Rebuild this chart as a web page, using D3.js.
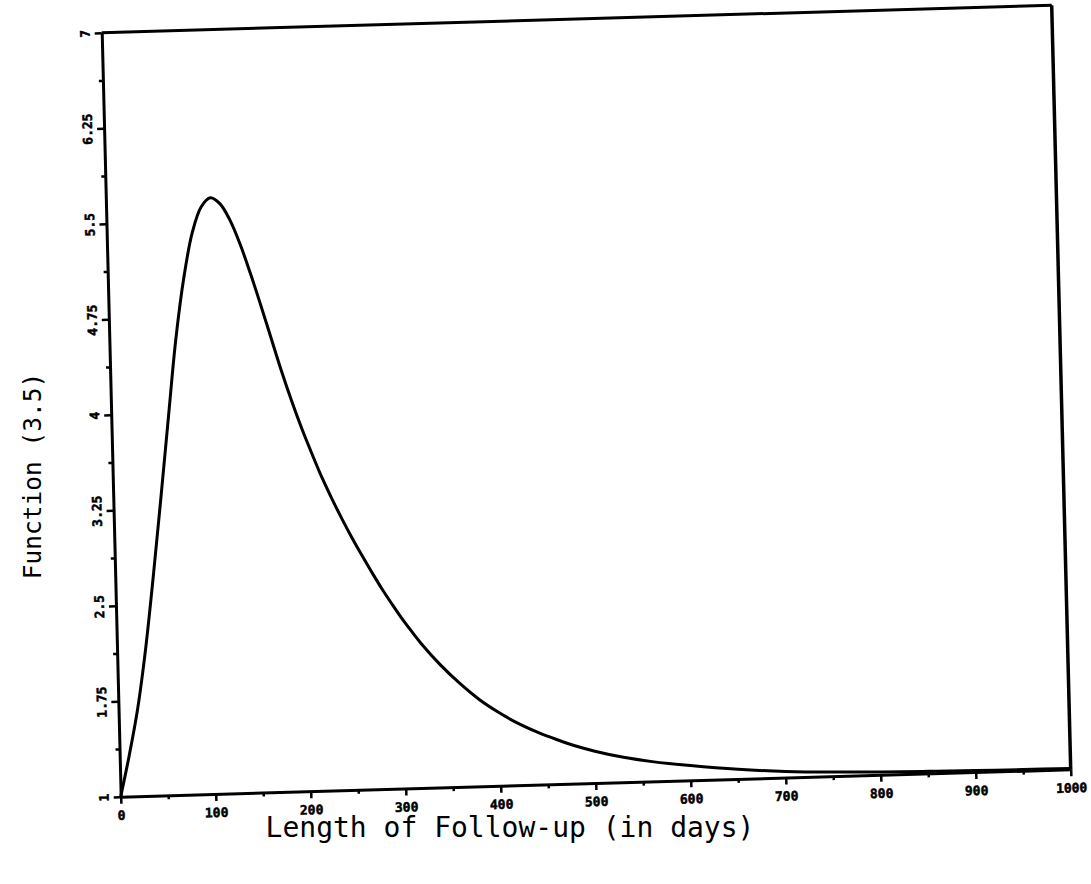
<!DOCTYPE html>
<html><head><meta charset="utf-8">
<script src="https://cdn.jsdelivr.net/npm/d3@7"></script>
<style>body{margin:0;background:#fff}</style>
</head><body>
<svg id="chart" width="1091" height="884"></svg>
<script>
const days   = [0,10,20,30,40,50,60,70,80,90,100,110,120,130,140,150,160,170,180,190,200,210,220,230,240,250,260,270,280,290,300,310,320,340,360,380,400,420,440,460,480,500,530,560,600,650,700,750,800,850,900,950,1000];
const values = [1.0,1.32,1.68,2.15,2.72,3.33,3.96,4.58,5.06,5.41,5.61,5.68,5.63,5.50,5.31,5.08,4.83,4.57,4.31,4.07,3.85,3.65,3.46,3.29,3.13,2.98,2.84,2.705,2.575,2.455,2.34,2.235,2.135,1.96,1.81,1.68,1.575,1.485,1.412,1.35,1.295,1.25,1.195,1.155,1.115,1.075,1.048,1.032,1.022,1.016,1.012,1.009,1.007];
const xTicks = [0,100,200,300,400,500,600,700,800,900,1000];
const xTickLabels = ["0","100","200","300","400","500","600","700","800","900","1000"];
const xMinorTicks = [50,150,250,350,450,550,650,750,850,950];
const yTicks = [1,1.75,2.5,3.25,4,4.75,5.5,6.25,7];
const yTickLabels = ["1","1.75","2.5","3.25","4","4.75","5.5","6.25","7"];
const yMinorTicks = [1.375,2.125,2.875,3.625,4.375,5.125,5.875,6.625];
const xTitle = "Length of Follow-up (in days)";
const yTitle = "Function (3.5)";

const W = 950, H = 764;
const svg = d3.select("#chart");
svg.append("rect").attr("width",1091).attr("height",884).attr("fill","#fff");

const x = d3.scaleLinear().domain([0,1000]).range([0,W]);
const y = d3.scaleLinear().domain([1,7]).range([H,0]);

// the scanned plot is slightly tilted
const g = svg.append("g").attr("transform","matrix(1,-0.02884,0.02487,1,101.7,32.7)");

// x axis
g.append("g").attr("transform",`translate(0,${H})`)
  .call(d3.axisBottom(x).tickValues(xTicks).tickFormat((d,i)=>xTickLabels[i]).tickSize(7).tickSizeOuter(0).tickPadding(7));
g.append("g").attr("transform",`translate(0,${H})`)
  .call(d3.axisBottom(x).tickValues(xMinorTicks).tickFormat("").tickSize(4).tickSizeOuter(0))
  .select(".domain").remove();

// y axis
const ya = g.append("g")
  .call(d3.axisLeft(y).tickValues(yTicks).tickFormat((d,i)=>yTickLabels[i]).tickSize(7).tickSizeOuter(0));
ya.selectAll(".tick text")
  .attr("x",0).attr("dy",null).attr("y",0)
  .attr("text-anchor","middle")
  .attr("transform","translate(-12,0) rotate(-90)");
g.append("g")
  .call(d3.axisLeft(y).tickValues(yMinorTicks).tickFormat("").tickSize(4).tickSizeOuter(0))
  .select(".domain").remove();

g.selectAll(".domain").attr("stroke","#000").attr("stroke-width",3);
g.selectAll(".tick line").attr("stroke","#000").attr("stroke-width",2.5);
g.selectAll(".tick text").attr("fill","#000")
  .attr("stroke","#000").attr("stroke-width",0.5)
  .attr("font-family","'DejaVu Sans Mono', monospace")
  .attr("font-size",13).attr("font-weight","bold");

// frame top and right
g.append("line").attr("x1",x(0)).attr("y1",y(7)).attr("x2",x(1000)).attr("y2",y(7))
  .attr("stroke","#000").attr("stroke-width",3);
g.append("line").attr("x1",x(1000)).attr("y1",y(7)).attr("x2",x(1000)).attr("y2",y(1))
  .attr("stroke","#000").attr("stroke-width",3.5);

// curve
const pts = days.map((d,i)=>({d, v: values[i]}));
g.append("path").datum(pts)
  .attr("fill","none").attr("stroke","#000").attr("stroke-width",3)
  .attr("stroke-linejoin","round")
  .attr("d", d3.line().x(p=>x(p.d)).y(p=>y(p.v)).curve(d3.curveCatmullRom.alpha(0.5)));

// titles
svg.append("text").attr("x",510).attr("y",837).attr("text-anchor","middle")
  .attr("font-family","'DejaVu Sans Mono', monospace").attr("font-size",28)
  .attr("fill","#000").text(xTitle);
svg.append("text").attr("transform","translate(41,476) rotate(-90)").attr("text-anchor","middle")
  .attr("font-family","'DejaVu Sans Mono', monospace").attr("font-size",24.5)
  .attr("fill","#000").text(yTitle);
</script>
</body></html>
